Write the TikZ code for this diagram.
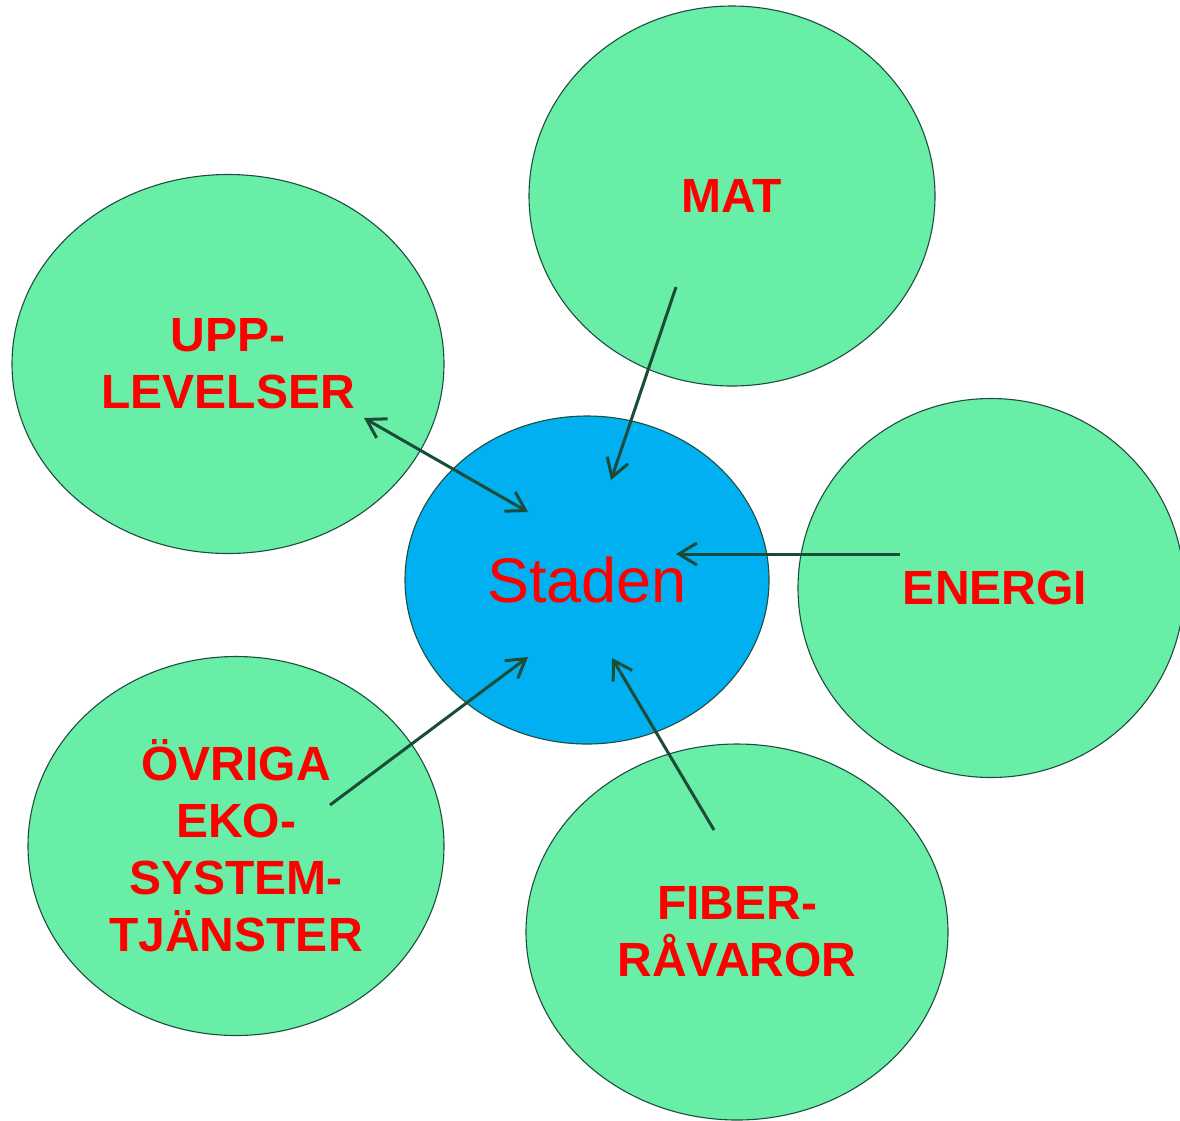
\documentclass[tikz,border=0pt]{standalone}
\usepackage{fontspec}
\setmainfont{Liberation Sans}
\usetikzlibrary{shapes.geometric,arrows.meta}
\definecolor{bubble}{RGB}{105,238,168}
\definecolor{city}{RGB}{0,176,240}
\definecolor{rim}{RGB}{30,78,60}
\definecolor{conn}{RGB}{26,76,56}
\definecolor{lbl}{RGB}{255,0,0}
\begin{document}
\begin{tikzpicture}[x=1pt,y=-1pt,
  bubblebox/.style={ellipse,draw=rim,line width=1.1pt,fill=bubble,inner sep=0pt,
    text=lbl,font=\fontsize{48}{57}\selectfont\bfseries,align=center},
  citybox/.style={ellipse,draw=rim,line width=1.1pt,fill=city,inner sep=0pt,
    text=lbl,font=\fontsize{63}{70}\selectfont},
  conline/.style={draw=conn,line width=3pt,
    -{Straight Barb[length=18pt,width=22pt,line width=3pt]}},
  twoline/.style={draw=conn,line width=3pt,
    {Straight Barb[length=18pt,width=22pt,line width=3pt]}-{Straight Barb[length=18pt,width=22pt,line width=3pt]}}]
\useasboundingbox (0,0) rectangle (1180,1120);
\begin{scope}
\clip (0,0) rectangle (1180,1120);
\node[citybox,minimum width=364pt,minimum height=328pt] (staden) at (587,580) {Staden};
\node[bubblebox,minimum width=406pt,minimum height=380pt] (mat) at (732,196) {MAT};
\node[bubblebox,minimum width=432pt,minimum height=379pt] (upp) at (228,364) {UPP-\\LEVELSER};
\node[bubblebox,minimum width=386pt,minimum height=379pt] (energi) at (991,588) {\hspace*{8pt}ENERGI};
\node[bubblebox,minimum width=416pt,minimum height=379pt] (ovriga) at (236,846) {ÖVRIGA\\EKO-\\SYSTEM-\\TJÄNSTER};
\node[bubblebox,minimum width=422pt,minimum height=376pt] (fiber) at (737,932) {FIBER-\\RÅVAROR};
\end{scope}
\coordinate (matA) at (676,287);
\coordinate (matB) at (611,480);
\coordinate (uppA) at (364,418);
\coordinate (uppB) at (528,512);
\coordinate (enA) at (900,554);
\coordinate (enB) at (676,554);
\coordinate (ovA) at (330,805);
\coordinate (ovB) at (528,657);
\coordinate (fiA) at (714,830);
\coordinate (fiB) at (612,658);
\draw[conline] (matA) -- (matB);
\draw[twoline] (uppA) -- (uppB);
\draw[conline] (enA) -- (enB);
\draw[conline] (ovA) -- (ovB);
\draw[conline] (fiA) -- (fiB);
\end{tikzpicture}
\end{document}
